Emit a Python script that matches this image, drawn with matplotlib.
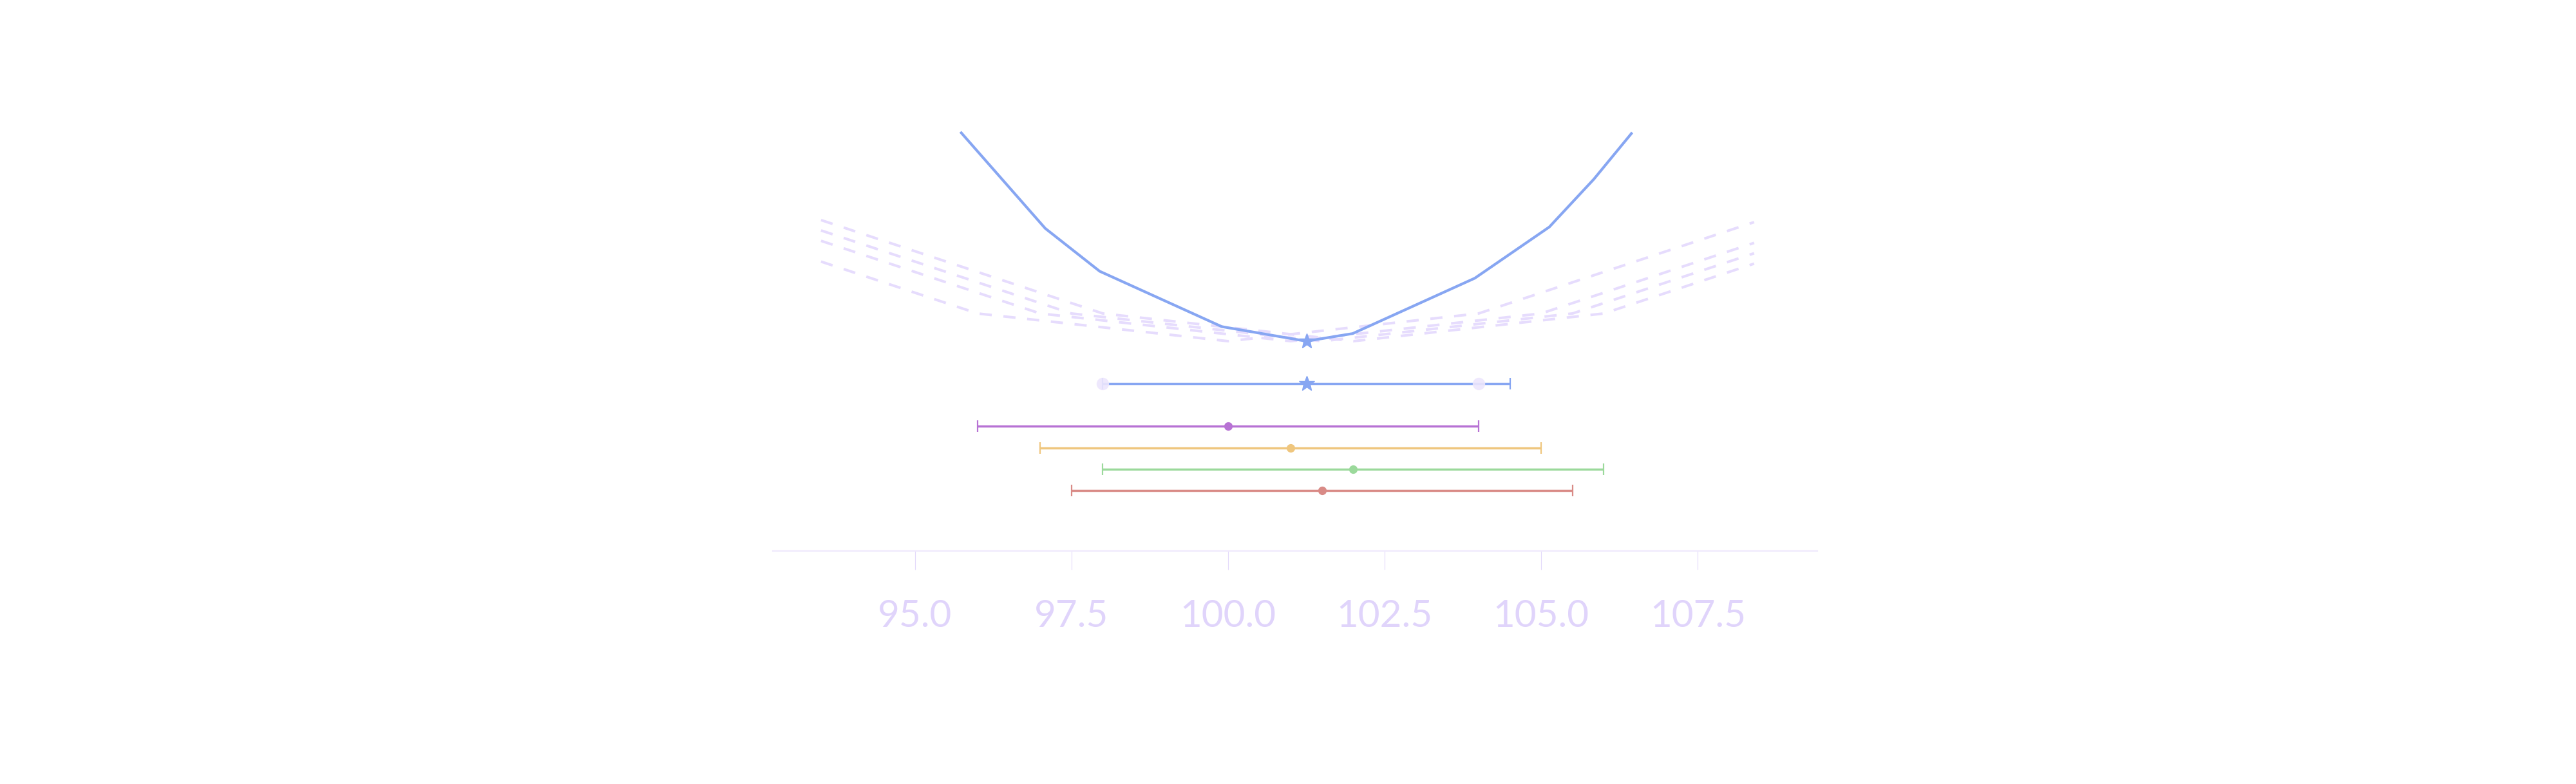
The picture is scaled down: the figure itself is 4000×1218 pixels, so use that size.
import numpy as np
import matplotlib
matplotlib.use("Agg")
import matplotlib.pyplot as plt
from matplotlib.path import Path

# individual measurements: centre and half-width of interval
labels = ["A", "B", "C", "D"]
centres = [100.0, 101.0, 102.0, 101.5]
errors = [4.0, 4.0, 4.0, 4.0]
colours = ["#b772d4", "#efc67e", "#9bd99b", "#d98a86"]
rows = [2, 3, 4, 5]

# combined result
comb_centre = 101.25
comb_err = 3.25
comb_marks = [98.0, 104.0]
comb_row = 0

curve_x = [
    [93.5, 96.0, 100.0, 104.0, 108.4],
    [93.5, 97.0, 101.0, 105.0, 108.4],
    [93.5, 98.0, 102.0, 106.0, 108.4],
    [93.5, 97.5, 101.5, 105.5, 108.4],
]
curve_y = [
    [11.5, 4.0, 0.0, 4.0, 17.2],
    [14.5, 4.0, 0.0, 4.0, 14.2],
    [17.5, 4.0, 0.0, 4.0, 11.2],
    [16.0, 4.0, 0.0, 4.0, 12.7],
]

# solid total curve
total_x = [95.74, 97.08, 97.95, 99.9, 101.25, 101.99, 103.94, 105.13, 105.84, 106.44]
total_y = [30.1, 16.3, 10.1, 2.1, 0.0, 1.1, 9.1, 16.5, 23.4, 30.0]

ticks = [95.0, 97.5, 100.0, 102.5, 105.0, 107.5]

blue = "#87a6f2"
lav = "#e6dcfd"
txt_col = "#e0d4fb"

fig = plt.figure(figsize=(40, 12.18), dpi=100)
ax_top = fig.add_axes([0.30, 0.5560, 0.4055, 0.2825])
ax = fig.add_axes([0.30, 0.2972, 0.4055, 0.2430], sharex=ax_top)

# top: curves
for xs, ys in zip(curve_x, curve_y):
    ax_top.plot(xs, ys, color=lav, lw=2.9, linestyle=(0, (4.7, 4.5)),
                solid_capstyle="butt", dash_capstyle="butt", zorder=1)
ax_top.plot(total_x, total_y, color=blue, lw=3.0, zorder=2)
ax_top.plot([comb_centre], [0.0], marker="*", ms=18, color=blue,
            linestyle="none", zorder=3, clip_on=False)
ax_top.set_ylim(-1, 31)
ax_top.axis("off")

# bottom: error bars
ax.errorbar([comb_centre], [comb_row], xerr=[comb_err], fmt="none",
            ecolor=blue, elinewidth=2.5, capsize=6.5, capthick=1.6, zorder=2)
ax.plot(comb_marks, [comb_row] * len(comb_marks), "o", ms=14,
        color="#ede6fd", alpha=0.9, mec="none", zorder=3)
ax.plot([comb_centre], [comb_row], marker="*", ms=18, color=blue,
        linestyle="none", zorder=4)

for c, e, col, r in zip(centres, errors, colours, rows):
    ax.errorbar([c], [r], xerr=[e], fmt="o", color=col, ms=9.5, mec="none",
                ecolor=col, elinewidth=2.5, capsize=6.5, capthick=1.6, zorder=2)

ax.set_ylim(7.83, -1.08)
ax.set_xlim(92.73, 109.41)
ax.set_yticks([])
for s in ["top", "left", "right"]:
    ax.spines[s].set_visible(False)
ax.spines["bottom"].set_color("#efe9fd")
ax.spines["bottom"].set_linewidth(1.6)
ax.set_xticks(ticks)
ax.set_xticklabels([f"{t:.1f}" for t in ticks], fontfamily=["Lato", "DejaVu Sans"],
                   fontsize=42, color=txt_col)
ax.tick_params(axis="x", length=21, width=0.8, color="#e3d9fb", pad=33)

fig.savefig("out.png", dpi=100, facecolor="white")
